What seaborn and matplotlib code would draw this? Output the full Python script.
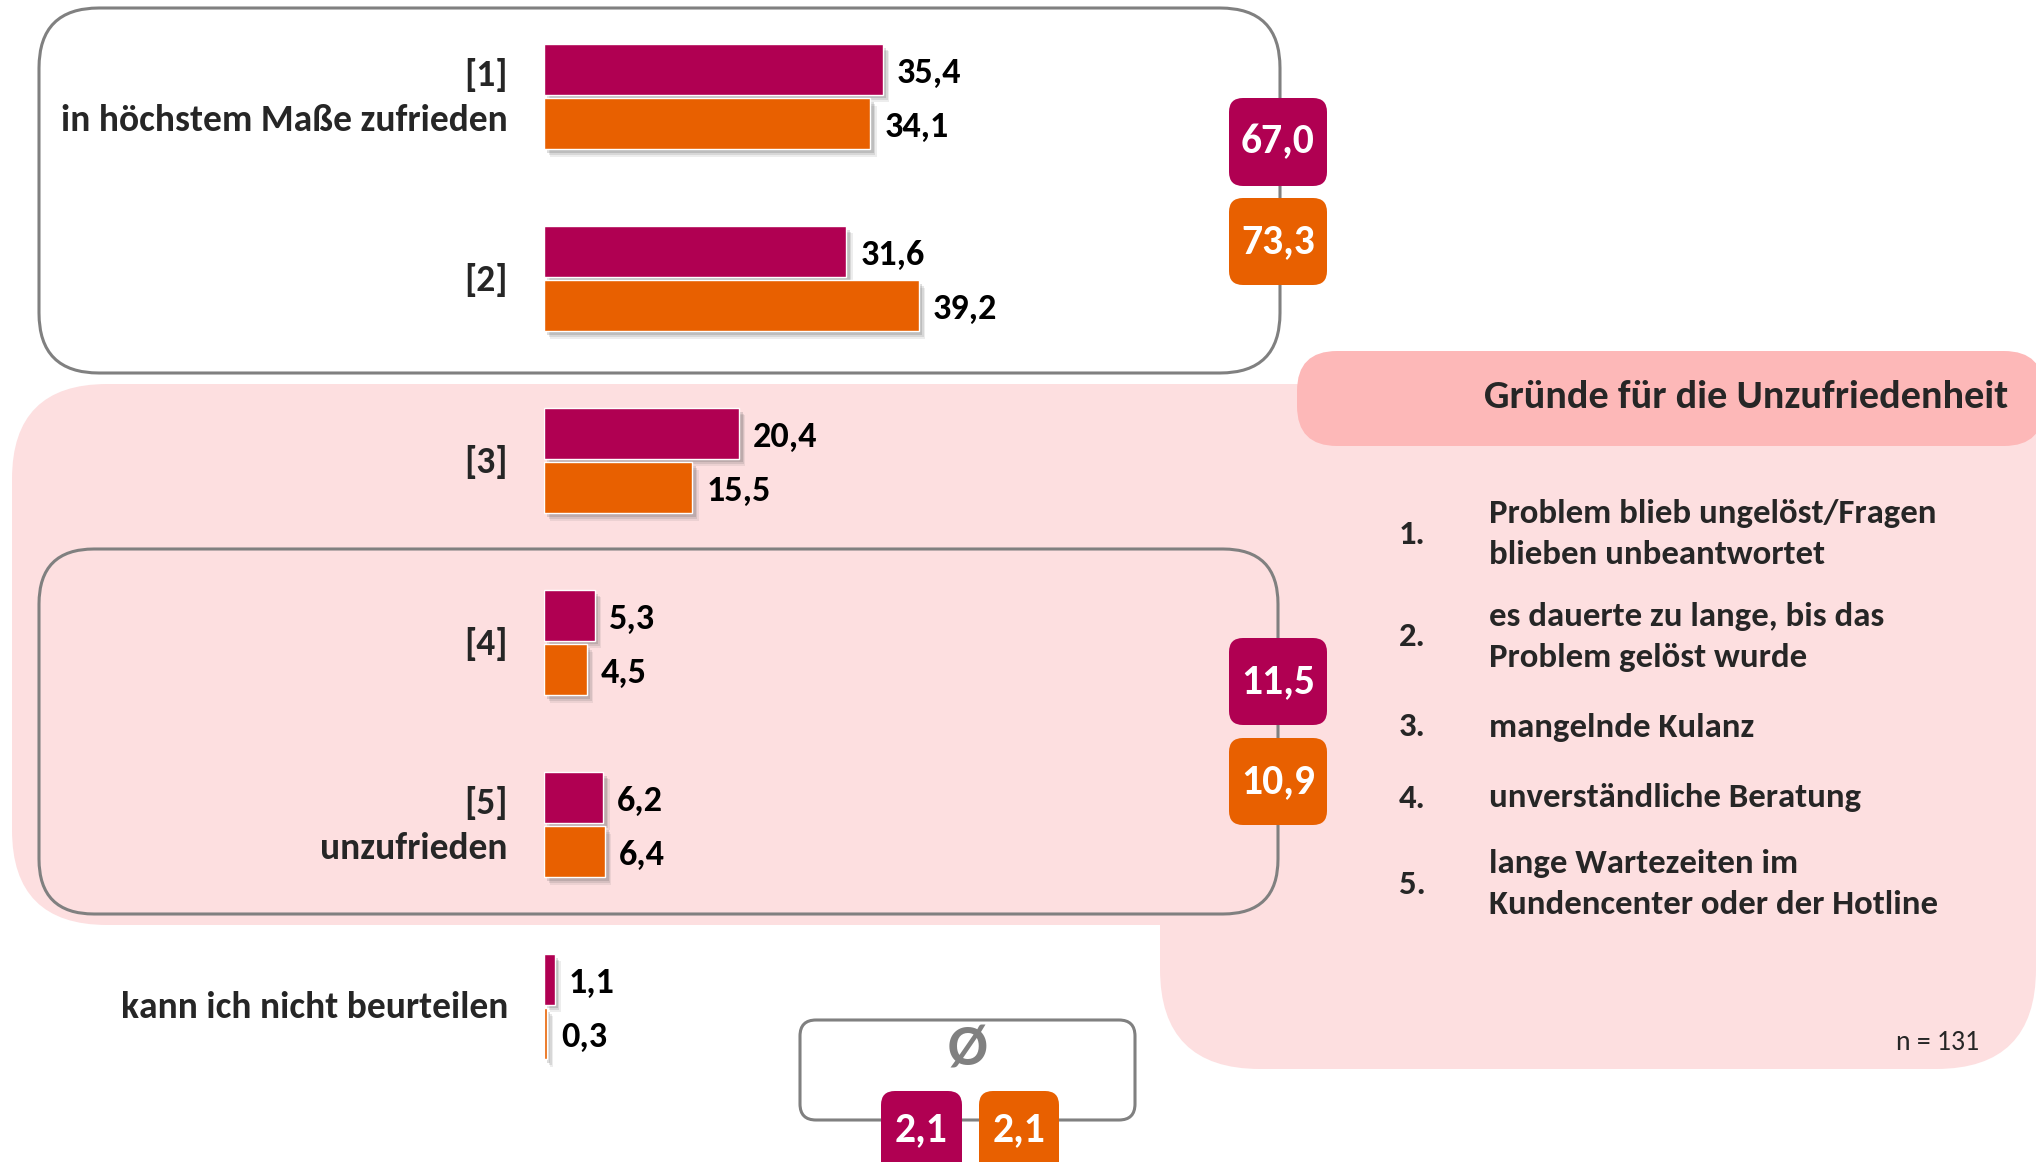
import matplotlib
matplotlib.use("Agg")
import matplotlib.pyplot as plt
import matplotlib.patheffects as pe
from matplotlib.patches import FancyBboxPatch, Rectangle
from matplotlib import font_manager
import pandas as pd
import seaborn as sns

# ---- data -------------------------------------------------------------
categories = ["[1]\nin höchstem Maße zufrieden", "[2]", "[3]", "[4]",
              "[5]\nunzufrieden", "kann ich nicht beurteilen"]
groups = ["Gruppe A", "Gruppe B"]
values_a = [35.4, 31.6, 20.4, 5.3, 6.2, 1.1]
values_b = [34.1, 39.2, 15.5, 4.5, 6.4, 0.3]
top_two_totals = [67.0, 73.3]      # [1] + [2]
bottom_two_totals = [11.5, 10.9]   # [4] + [5]
mean_values = [2.1, 2.1]
panel_title = "Gründe für die Unzufriedenheit"
reasons = [
    "Problem blieb ungelöst/Fragen\nblieben unbeantwortet",
    "es dauerte zu lange, bis das\nProblem gelöst wurde",
    "mangelnde Kulanz",
    "unverständliche Beratung",
    "lange Wartezeiten im\nKundencenter oder der Hotline",
]
sample_note = "n = 131"

# ---- style ------------------------------------------------------------
MAGENTA = "#B00052"
ORANGE = "#E86000"
PINK = "#FDDFE0"
HEADER_PINK = "#FDB8B8"
GRAY = "#808080"

sns.set_style("white")
installed = {f.name for f in font_manager.fontManager.ttflist}
family = next(f for f in ["Carlito", "Lato", "Open Sans", "DejaVu Sans"] if f in installed)
plt.rcParams["font.family"] = [family, "DejaVu Sans"]

LABEL_SIZE = 27
VALUE_SIZE = 26
BADGE_SIZE = 30
LIST_SIZE = 25

W, H = 2036, 1162
fig = plt.figure(figsize=(W / 100, H / 100), dpi=100)

# background layer in pixel units (origin top-left)
bg = fig.add_axes([0, 0, 1, 1], zorder=0)
bg.set_xlim(0, W)
bg.set_ylim(H, 0)
bg.axis("off")


def rbox(x0, y0, x1, y1, r, fc, ec="none", lw=0.0, z=1):
    bg.add_patch(FancyBboxPatch((x0, y0), x1 - x0, y1 - y0,
                                boxstyle=f"round,pad=0,rounding_size={r}",
                                fc=fc, ec=ec, lw=lw, zorder=z))


# pink area behind [3]-[5] and the reasons panel
rbox(12, 384, 1320, 925, 95, PINK)
rbox(1160, 384, 2036, 1069, 100, PINK)
bg.add_patch(Rectangle((1160, 384), 876, 300, fc=PINK, ec="none", zorder=1))
rbox(1297, 351, 2044, 446, 40, HEADER_PINK, z=2)

# outlined groups
rbox(39, 8, 1280, 373, 60, "white", GRAY, 2.2, z=2)
rbox(39, 549, 1278, 914, 55, "none", GRAY, 2.2, z=2)

# ---- bars ---------------------------------------------------------------
df = pd.DataFrame({
    "kategorie": categories * 2,
    "gruppe": [groups[0]] * len(categories) + [groups[1]] * len(categories),
    "wert": values_a + values_b,
})

x0_px, px_per_unit, step_px, first_center = 544, 9.57, 182, 96.5
xmax = 50
y_top = first_center - step_px / 2
y_bot = first_center + (len(categories) - 0.5) * step_px
ax = fig.add_axes([x0_px / W, 1 - y_bot / H, xmax * px_per_unit / W, (y_bot - y_top) / H], zorder=3)
ax.patch.set_alpha(0)
sns.barplot(data=df, y="kategorie", x="wert", hue="gruppe", order=categories,
            hue_order=groups, palette=[MAGENTA, ORANGE], orient="h",
            width=0.6, gap=0.07, saturation=1, legend=False, ax=ax)
ax.set_xlim(0, xmax)
ax.set_ylim(len(categories) - 0.5, -0.5)
ax.set_xticks([])
ax.set_yticks([])
ax.set_xlabel("")
ax.set_ylabel("")
sns.despine(ax=ax, left=True, bottom=True)

# soft drop shadow below/right of each bar
shadow = [
    pe.SimplePatchShadow(offset=(4.5, -5.5), shadow_rgbFace="0.45", alpha=0.12),
    pe.SimplePatchShadow(offset=(3.5, -4.2), shadow_rgbFace="0.4", alpha=0.16),
    pe.SimplePatchShadow(offset=(2.4, -2.8), shadow_rgbFace="0.35", alpha=0.2),
    pe.Normal(),
]
for patch in ax.patches:
    patch.set_path_effects(shadow)

for cont, vals in zip(ax.containers, [values_a, values_b]):
    texts = ax.bar_label(cont, labels=[f"{v:.1f}".replace(".", ",") for v in vals],
                         padding=10, fontsize=VALUE_SIZE, fontweight="bold", color="black")
    for t in texts:
        t.xyann = (t.xyann[0], -2.5)

# category labels, right-aligned left of the bars
for i, cat in enumerate(categories):
    lines = cat.split("\n")
    n = len(lines)
    for j, line in enumerate(lines):
        dy = (j - (n - 1) / 2) * 46 * 0.72
        ax.annotate(line, xy=(0, i), xycoords=("axes fraction", "data"),
                    xytext=(-26, -dy - 1), textcoords="offset points",
                    ha="right", va="center", fontsize=LABEL_SIZE, fontweight="bold")


# ---- summary badges -------------------------------------------------------
def badge(x0, y0, x1, y1, color, value, size=BADGE_SIZE, ty=None):
    rbox(x0, y0, x1, y1, 14, color, z=4)
    ty = (y0 + y1) / 2 if ty is None else ty
    bg.text((x0 + x1) / 2, ty, f"{value:.1f}".replace(".", ","),
            ha="center", va="center", color="white", fontsize=size,
            fontweight="bold", zorder=5)


badge(1229, 98, 1327, 186, MAGENTA, top_two_totals[0])
badge(1229, 198, 1327, 285, ORANGE, top_two_totals[1])
badge(1229, 638, 1327, 725, MAGENTA, bottom_two_totals[0])
badge(1229, 738, 1327, 825, ORANGE, bottom_two_totals[1])

# mean box
rbox(800, 1020, 1135, 1120, 16, "white", GRAY, 2.2, z=2)
bg.text(968, 1050, "Ø", ha="center", va="center", color=GRAY,
        fontsize=42, fontweight="bold", zorder=3)
badge(881, 1091, 962, 1185, MAGENTA, mean_values[0], ty=1130)
badge(979, 1091, 1059, 1185, ORANGE, mean_values[1], ty=1130)

# ---- reasons panel ----------------------------------------------------------
bg.text(2008, 397, panel_title, ha="right", va="center",
        fontsize=29, fontweight="bold", zorder=3)
reason_y = [534, 637, 727, 798, 884]
for k, (txt, y) in enumerate(zip(reasons, reason_y), start=1):
    bg.text(1399, y, f"{k}.", ha="left", va="center", fontsize=LIST_SIZE,
            fontweight="bold", zorder=3)
    bg.text(1489, y, txt, ha="left", va="center", fontsize=LIST_SIZE,
            fontweight="bold", linespacing=1.52, zorder=3)
bg.text(1979, 1042, sample_note, ha="right", va="center", fontsize=20, zorder=3)

fig.savefig("out.png", dpi=100)
